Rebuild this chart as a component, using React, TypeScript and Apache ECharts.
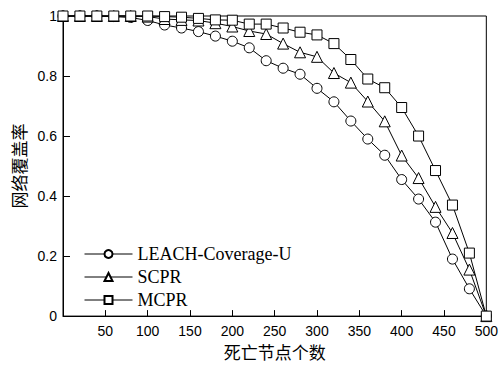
import React, { useEffect, useRef } from "react";
import * as echarts from "echarts";

const xValues = [0, 20, 40, 60, 80, 100, 120, 140, 160, 180, 200, 220, 240, 260, 280, 300, 320, 340, 360, 380, 400, 420, 440, 460, 480, 500];
const leach = [1, 1, 1, 0.998, 0.995, 0.985, 0.97, 0.96, 0.948, 0.933, 0.916, 0.894, 0.851, 0.826, 0.806, 0.759, 0.714, 0.65, 0.59, 0.536, 0.455, 0.39, 0.313, 0.19, 0.091, 0];
const scpr = [1, 1, 1, 1, 1, 0.998, 0.99, 0.987, 0.985, 0.976, 0.965, 0.95, 0.94, 0.908, 0.879, 0.864, 0.81, 0.778, 0.715, 0.649, 0.535, 0.46, 0.364, 0.277, 0.155, 0];
const mcpr = [1, 1, 1, 1, 1, 1, 0.998, 0.996, 0.992, 0.987, 0.986, 0.973, 0.973, 0.96, 0.946, 0.937, 0.908, 0.855, 0.79, 0.761, 0.695, 0.6, 0.485, 0.37, 0.21, 0];
const seriesNames = ["LEACH-Coverage-U", "SCPR", "MCPR"];
const symbols = ["circle", "triangle", "rect"];
const xTicks = { min: 0, max: 500, interval: 50 };
const yTicks = { min: 0, max: 1, interval: 0.2 };

export default function App() {
  const ref = useRef<HTMLDivElement>(null);
  useEffect(() => {
    if (!ref.current) return;
    const chart = echarts.init(ref.current, null, { renderer: "svg" });
    const datasets = [leach, scpr, mcpr];
    chart.setOption({
      animation: false,
      backgroundColor: "#fff",
      grid: { left: 63, right: 13, top: 16, bottom: 42, show: true, borderColor: "#000", borderWidth: 1 },
      legend: {
        orient: "vertical",
        left: 79,
        top: 240,
        itemWidth: 48,
        itemHeight: 10,
        itemGap: 5,
        data: seriesNames,
        lineStyle: { width: 1 },
        textStyle: { fontFamily: "Liberation Serif", fontSize: 18, color: "#000", lineHeight: 18 },
      },
      xAxis: {
        type: "value",
        min: xTicks.min,
        max: xTicks.max,
        interval: xTicks.interval,
        name: "死亡节点个数",
        nameLocation: "middle",
        nameGap: 25,
        nameTextStyle: { fontFamily: "Noto Sans CJK SC", fontSize: 17, color: "#000", verticalAlign: "top" },
        axisLine: { lineStyle: { color: "#000", width: 1 } },
        axisTick: { inside: true, length: 6, lineStyle: { color: "#000" } },
        axisLabel: { showMinLabel: false, fontFamily: "Liberation Sans", fontSize: 14, color: "#000", margin: 8 },
        splitLine: { show: false },
      },
      yAxis: {
        type: "value",
        min: yTicks.min,
        max: yTicks.max,
        interval: yTicks.interval,
        name: "网络覆盖率",
        nameLocation: "middle",
        nameGap: 36,
        nameRotate: 90,
        nameTextStyle: { fontFamily: "Noto Sans CJK SC", fontSize: 17, color: "#000" },
        axisLine: { lineStyle: { color: "#000", width: 1 } },
        axisTick: { inside: true, length: 7, lineStyle: { color: "#000" } },
        axisLabel: {
          fontFamily: "Liberation Sans",
          fontSize: 14,
          color: "#000",
          margin: 6,
          formatter: (v: number) => (v === 0 || v === 1 ? String(v) : v.toFixed(1)),
        },
        splitLine: { show: false },
      },
      series: datasets.map((d, i) => ({
        name: seriesNames[i],
        type: "line",
        data: d.map((v, j) => [xValues[j], v]),
        symbol: symbols[i],
        symbolSize: i === 1 ? 11 : 10,
        clip: false,
        lineStyle: { color: "#000", width: 1 },
        itemStyle: { color: "#fff", borderColor: "#000", borderWidth: 1 },
        z: 2 + i,
      })),
    });
    return () => chart.dispose();
  }, []);
  return <div ref={ref} style={{ width: 501, height: 365, position: "absolute", left: 0, top: 0 }} />;
}
